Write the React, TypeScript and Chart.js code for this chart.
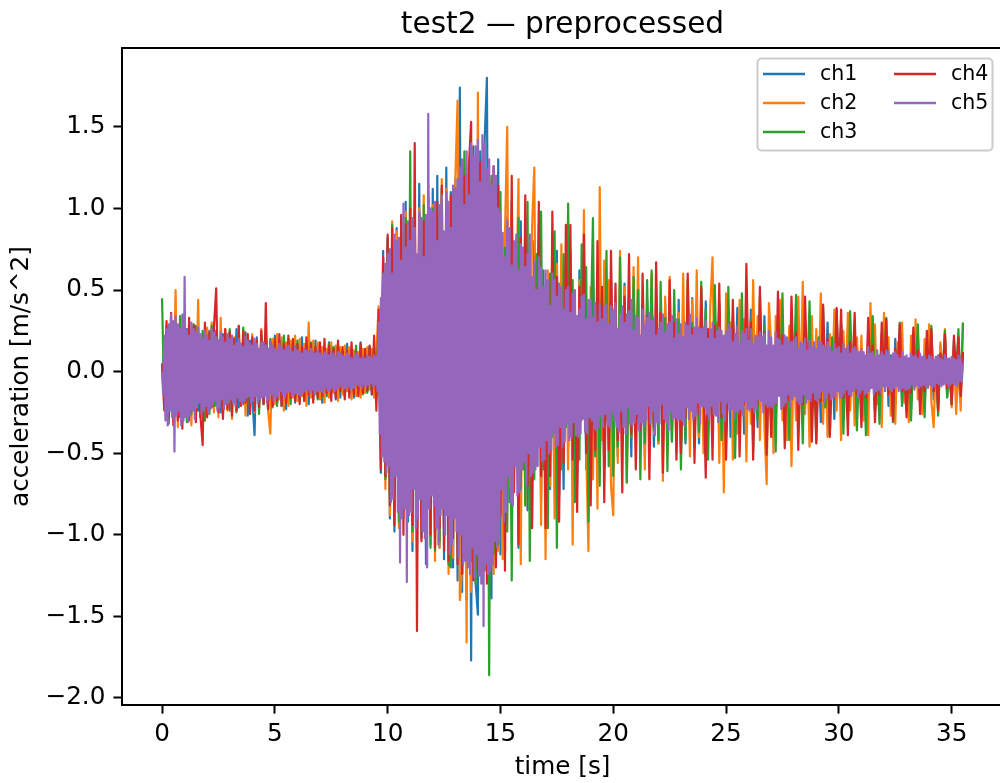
import React, { useEffect, useRef } from "react";
import { Chart, registerables } from "chart.js";

Chart.register(...registerables);

// sample spacing [s] per channel and value unit (values below are in centi-m/s^2)
const SAMPLE_DT = [0.1, 0.1, 0.1, 0.1, 0.05];
const UNIT = 0.01;

const TITLE = "test2 \u2014 preprocessed";
const X_LABEL = "time [s]";
const Y_LABEL = "acceleration [m/s^2]";
const X_TICKS = [0, 5, 10, 15, 20, 25, 30, 35];
const Y_TICKS = [-2.0, -1.5, -1.0, -0.5, 0.0, 0.5, 1.0, 1.5];
const CHANNELS = ["ch1", "ch2", "ch3", "ch4", "ch5"];
const COLORS = ["#1f77b4", "#ff7f0e", "#2ca02c", "#d62728", "#9467bd"];

const CH1 = [
  0, 12, -18, 27, -22, 30, -25, 18, -28, 24,
  -20, 26, -30, 22, -17, 28, -24, 19, -26, 21,
  -23, 25, -19, 27, -21, 18, -25, 23, -16, 22,
  -24, 20, -18, 26, -22, 17, -20, 24, -27, 19,
  -15, -39, 21, -18, 23, -20, 16, -24, 19, -17,
  22, -19, 15, -21, 18, -23, 20, -16, 17, -19,
  14, -18, 21, -15, 17, -20, 13, -17, 19, -14,
  16, -19, 13, -15, 18, -12, 15, -17, 14, -16,
  12, -15, 17, -13, 14, -16, 11, -14, 18, -12,
  13, -11, 15, -14, 10, -16, 35, -62, 74, -58,
  82, -90, 76, -98, 88, -72, 95, -85, 104, -92,
  90, -110, 98, -86, 115, -102, 94, -118, 106, -96,
  112, -98, 120, -108, 96, -115, 125, -104, 110, -120,
  118, -128, 174, -135, 126, -140, 122, -177, 138, -130,
  -149, 135, -128, 142, 180, -120, -139, 125, -118, 130,
  -112, 70, -60, 95, -80, 104, -50, 78, -108, 92,
  -60, 96, -85, 40, -92, 80, -55, 90, -78, 62,
  -80, 45, -72, 84, -38, 74, -76, 30, -72, 70,
  -46, 72, -70, 34, -68, 62, -28, 70, -60, 40,
  -62, 58, -30, 60, -56, 25, -58, 54, -22, 56,
  -54, 30, -52, 56, -20, 54, -56, 28, -52, 50,
  -28, 52, -50, 22, -52, 44, -18, 50, -46, 26,
  -44, 24, -46, 42, -20, 44, -42, 22, -40, 44,
  -46, 18, -44, 40, -22, 45, -40, 16, -44, 41,
  -20, 43, -38, 18, -42, 37, -16, 42, -36, 20,
  -38, 16, -40, 34, -14, 39, -35, 18, -38, 33,
  -15, 38, -33, 14, -34, 32, -16, 34, -31, 12,
  -33, 13, -35, 33, -12, 34, -32, 14, -33, 31,
  -12, 33, -29, 11, -32, 28, -13, 32, -27, 12,
  -29, 10, -31, 28, -11, 30, -28, 12, -29, 27,
  -10, 29, -25, 11, -28, 24, -9, 28, -23, 10,
  -25, 9, -27, 24, -10, 26, -24, 8, -25, 23,
  -9, 25, -21, 10, -24, 20, -8, 24, -19, 9,
  -21, 8, -23, 20, -9, 22, -20, 7, -21, 19,
  -8, 21, -17, 9, -20, 16, -7, 20, -15, 8,
  -17, 19, -6, 17, -12, 10,
];

const CH2 = [
  0, -8, 22, -30, 28, -25, 50, -34, 26, -29,
  31, -27, 24, -33, 29, -22, 44, -26, 23, -30,
  27, -21, 30, -25, 22, -28, 33, -20, 26, -24,
  25, -29, 21, -23, 28, -19, 24, -27, 22, -20,
  23, -25, 19, -22, 26, -18, 21, -24, -38, 20,
  -20, 23, -17, 21, -24, 18, -21, 19, -16, 22,
  -18, 20, -15, 17, -21, 30, -16, 19, -14, 18,
  -17, 15, -19, 14, -16, 18, -13, 16, -18, 15,
  -14, 16, -12, 15, -17, 13, -15, 12, -16, 14,
  -13, 15, -11, 14, -16, 12, 40, -55, 68, -72,
  78, -88, 92, -80, 86, -96, 84, -90, 98, -86,
  94, -104, 88, -112, 100, -96, 108, -90, 114, -106,
  102, -116, 98, -108, 118, -100, 112, -124, 106, -114,
  118, 166, -140, -122, 130, -166, 125, -135, 128, -120,
  171, -125, 130, -118, 122, -128, 116, -124, 120, -110,
  60, -115, 84, 150, -70, 96, -62, 45, 118, -118,
  70, -82, 40, -64, 88, 125, -50, 72, -94, 36,
  -115, 62, -70, 30, -90, 66, -40, 78, -56, 50,
  -60, 74, -106, 38, -62, 56, -30, 99, -48, -110,
  52, -66, 28, -84, 113, -42, 68, -30, 56, -70,
  -88, 40, -56, 74, -30, 52, -68, 26, -40, 64,
  -30, 70, -44, 22, -60, 42, -24, 60, -38, 28,
  -44, 30, -67, 46, -22, 58, -36, 24, -50, 36,
  -26, 60, -34, 20, -52, 44, -18, 62, -40, 22,
  -50, 24, -36, 40, 70, -20, 30, -56, 22, -74,
  48, -18, 30, -54, 20, -38, 44, -16, 32, -55,
  18, -32, 56, -14, 34, -42, 16, -34, -69, 42,
  16, -50, 34, -14, 44, -30, 14, -42, 28, -58,
  14, -30, 46, -12, 55, -26, 13, -46, 34, -12,
  26, -12, 48, -32, 11, -40, 23, -10, 38, -24,
  10, -42, 25, -9, 36, -24, 10, -33, 21, -9,
  22, -30, 9, -39, 42, -8, 29, -20, 9, -34,
  36, -8, 21, -27, 8, -32, 18, -7, 30, -19,
  8, -31, 22, -7, 32, -17, 7, -26, 20, -6,
  29, -18, -34, 6, -24, 18, -6, 26, -15, 6,
  -22, 16, -26, 5, -24, 30,
];

const CH3 = [
  45, -20, 28, -32, 24, -27, 30, -22, 34, -25,
  27, -31, 23, -26, 29, -24, 22, -28, 25, -30,
  22, -26, 28, -21, 25, -23, 20, -27, 24, -19,
  26, -22, 19, -25, 23, -20, 27, -18, 21, -24,
  20, -23, 18, -26, 22, -19, 24, -17, 20, -22,
  17, -21, 19, -16, 22, -18, 15, -20, 17, -15,
  19, -16, 14, -18, 16, -13, 18, -15, 12, -17,
  14, -16, 12, -14, 17, -11, 15, -13, 16, -12,
  13, -15, 11, -13, 14, -12, 16, -10, 13, -14,
  11, -13, 15, -12, 10, -14, 30, -50, 62, -66,
  80, -76, 90, -84, 78, -92, 86, -80, 94, -88,
  135, -98, 92, -104, 96, -88, 102, -94, 98, -108,
  100, -110, 94, -104, 112, -96, 106, -118, -120, 104,
  112, -106, 118, -124, 135, -112, 120, -116, 126, -130,
  124, -118, 130, -122, 116, -186, 120, -112, 118, -106,
  110, -60, 76, -98, 40, -128, 66, -45, 94, -72,
  50, -82, 104, -116, 34, -66, 72, -30, 98, -60,
  30, -96, 60, -40, 86, -108, 28, -60, 72, -34,
  103, -30, 56, -80, 26, -54, 78, -24, 64, -92,
  24, 94, -52, 22, -70, 46, -20, 74, -58, 18,
  -64, 18, -46, 70, -16, 44, -68, 18, -40, 58,
  -16, 50, -66, 15, -44, 56, -14, 62, -36, 16,
  -42, 55, -14, 33, -61, 13, -43, 50, -12, 32,
  -60, 12, -42, 56, -11, 30, -46, 12, -37, 55,
  -11, 38, -54, 10, -35, 53, -11, 34, -42, 10,
  -34, 52, -10, 30, -53, 9, -30, 48, -10, 29,
  -9, 32, -48, 9, -29, 47, -8, 28, -46, 9,
  -28, 8, -49, 25, -8, 48, -24, 8, -42, 33,
  -7, 47, -23, 8, -44, 22, -7, 43, -21, 7,
  -43, 21, -7, 40, -22, 6, -39, 21, -6, 38,
  -6, 22, -38, 6, -19, 37, -6, 18, -36, 5,
  -18, 5, -39, 15, -5, 34, -24, 5, -32, 13,
  -5, 33, -13, 5, -31, 14, -4, 30, -21, 5,
  -23, 4, -30, 12, -4, 29, -14, 4, -28, 12,
  -4, 28, -12, 4, -27, 11, -3, 25, -16, 4,
  -20, 12, -3, 26, -14, 30,
];

const CH4 = [
  5, -24, 31, -28, 36, -33, 27, -30, 25, -35,
  29, -26, 33, -24, 28, -31, 22, -27, -45, 30,
  -28, 24, -22, 27, 51, -25, 21, -29, 26, -23,
  24, -27, 20, -24, 28, -21, 25, -19, 23, -26,
  21, -24, 19, -22, 25, -20, 42, -23, 18, -21,
  20, -18, 23, -21, 17, -19, 22, -16, 20, -18,
  17, -20, 15, -18, 21, -14, 17, -19, 15, -16,
  18, -15, 20, -13, 16, -18, 14, -16, 19, -12,
  15, -17, 13, -16, 18, -14, 12, -15, 17, -13,
  14, -12, 16, -14, 22, -24, 38, -60, 70, -64,
  84, -82, 88, -94, 80, -86, 96, -100, 90, -84,
  100, -94, 140, -159, 96, -104, 92, -98, 106, -100,
  98, -108, 104, -96, 114, -110, 100, -116, 108, -102,
  112, -118, 106, -124, 120, -114, 126, 153, -128, 118,
  -122, 128, -116, 124, -130, 118, -112, 126, -120, 114,
  -88, 40, -122, 86, -50, 120, -74, 35, -106, 82,
  -40, 108, -70, 30, -96, 66, -28, 104, -64, 34,
  -96, 26, -64, 98, -24, 58, -92, 22, -56, 90,
  -20, 90, -54, 18, -86, 52, -18, 84, -50, 16,
  -82, 16, -48, 80, -14, 52, -80, 15, -48, 74,
  -14, 54, -42, 13, -74, 46, -12, 72, -38, 12,
  -60, 12, -36, 60, -11, 34, -66, 12, -34, 67,
  -10, 36, -62, 10, -30, 56, -9, 30, -54, 10,
  -50, 9, -28, 60, -9, 26, -56, 8, -26, 52,
  -8, -65, 26, 8, -54, 28, -8, 54, -28, 7,
  -54, 7, -22, 44, -7, 24, -52, 6, -20, 66,
  -6, 30, -54, 6, -20, 52, -6, 24, -51, 5,
  -40, 5, -20, 49, -5, 22, -47, 5, -18, 46,
  -5, 24, -48, 4, -20, 46, -4, 18, -43, 4,
  -44, 4, -18, 41, -4, 20, -40, 4, -16, 39,
  -3, 38, -16, 3, -39, 18, -3, 36, -14, 3,
  -34, 3, -16, 33, -3, 16, -31, 3, -14, 30,
  -3, 32, -14, 3, -30, 14, -2, 29, -12, 2,
  -28, 2, -13, 27, -2, 13, -26, 2, -12, 25,
  -2, 26, -12, 2, -24, 11, -2, 23, -10, 2,
  -20, 22, -2, 21, -15, 12,
];

const CH5 = [
  0, -14, 22, -30, 26, -33, 29, -24, 35, -28,
  31, -49, 34, -27, 29, -24, 26, -33, 35, -30,
  58, -28, 25, -31, 22, -27, 30, -24, 26, -29,
  24, -22, 27, -19, 23, -26, 20, -24, 25, -21,
  22, -25, 19, -23, 26, -20, 24, -18, 21, -24,
  19, -22, 24, -17, 21, -23, 18, -20, 23, -19,
  20, -17, 22, -19, 16, -21, 18, -16, 20, -18,
  17, -20, 15, -18, 21, -16, 19, -15, 17, -19,
  16, -18, 20, -15, 17, -19, 14, -17, 18, -16,
  18, -15, 16, -19, 14, -17, 19, -14, 16, -18,
  14, -16, 13, -15, 17, -12, 15, -14, 13, -16,
  15, -13, 16, -12, 14, -15, 12, -14, 16, -13,
  13, -14, 12, -15, 11, -13, 14, -12, 13, -11,
  12, -13, 14, -11, 12, -14, 11, -12, 13, -12,
  11, -12, 10, -13, 12, -10, 11, -12, 10, -11,
  12, -10, 11, -12, 9, -11, 12, -10, 11, -9,
  10, -11, 9, -10, 11, -9, 10, -11, 8, -10,
  9, -10, 11, -8, 10, -9, 8, -10, 9, -8,
  8, -9, 10, -8, 9, -7, 8, -9, 10, -8,
  9, -12, 30, -38, 45, -52, 60, -55, 66, -62,
  72, -58, 75, -80, 60, -78, 84, -64, 80, -86,
  82, -117, 68, -90, 103, -84, 76, -129, 92, -88,
  80, -86, 94, -72, 88, -96, 72, -90, 98, -78,
  94, -98, 70, -102, 96, -120, 158, -84, 100, -76,
  98, -82, 104, -96, 80, -106, 102, -88, 108, -84,
  86, -100, 110, -88, 104, -112, 88, -106, 114, -90,
  112, -98, 118, -114, 125, -100, 130, -118, 102, -116,
  135, -120, 108, -124, 140, -108, 132, -126, 138, -112,
  142, -125, 116, -130, 145, -156, 140, -118, 124, -124,
  130, -122, 114, -118, 126, -104, 120, -108, 100, -104,
  98, -72, 85, -92, 70, -86, 92, -64, 88, -80,
  65, -82, 80, -58, 84, -76, 62, -74, 78, -60,
  76, -55, 64, -70, 72, -50, 84, -64, 58, -62,
  68, -60, 50, -58, 70, -46, 64, -55, 52, -54,
  62, -42, 56, -50, 40, -48, 60, -38, 56, -46,
  46, -45, 54, -34, 52, -46, 38, -43, 50, -32,
  52, -42, 36, -40, 48, -31, 50, -39, 34, -40,
  38, -38, 46, -29, 47, -37, 32, -38, 44, -28,
  44, -30, 33, -35, 42, -36, 30, -34, 41, -27,
  32, -34, 40, -26, 41, -33, 29, -34, 40, -25,
  38, -30, 42, -34, 26, -37, 35, -24, 40, -34,
  30, -38, 35, -22, 37, -32, 44, -33, 25, -31,
  34, -26, 33, -36, 22, -31, 38, -33, 28, -30,
  33, -21, 36, -32, 31, -24, 33, -39, 22, -31,
  26, -32, 30, -20, 35, -29, 24, -31, 29, -36,
  30, -24, 34, -29, 20, -28, 32, -30, 23, -29,
  29, -30, 21, -33, 30, -22, 28, -29, 35, -24,
  22, -29, 27, -27, 33, -19, 27, -32, 26, -21,
  27, -22, 31, -26, 20, -29, 26, -21, 30, -26,
  20, -27, 25, -31, 27, -18, 25, -26, 22, -30,
  25, -19, 29, -24, 26, -23, 18, -28, 23, -24,
  28, -25, 17, -23, 25, -27, 23, -18, 26, -23,
  19, -24, 26, -22, 17, -25, 22, -23, 21, -17,
  24, -18, 21, -25, 23, -20, 16, -22, 25, -21,
  21, -22, 16, -20, 24, -19, 20, -15, 19, -23,
  16, -21, 22, -19, 21, -14, 19, -22, 18, -17,
  19, -15, 21, -18, 14, -20, 18, -19, 17, -14,
  20, -19, 13, -17, 19, -18, 15, -13, 18, -17,
  14, -18, 19, -16, 18, -12, 16, -19, 15, -16,
  18, -13, 15, -17, 12, -16, 17, -15, 14, -12,
  15, -16, 11, -15, 17, -13, 14, -11, 16, -14,
  11, -15, 14, -12, 15, -10, 13, -16, 12, -13,
  14, -11, 12, -14, 10, -13, 15, -12, 11, -10,
  12, -14, 9, -12, 13, -11, 10, -13, 12, -9,
  10, -12, 13, -9, 12, -11, 8, -12, 11, -10,
  12, -9, 10, -12, 8, -11, 12, -10, 9, -11,
  10, -11, 8, -10, 11, -8, 9, -11, 10, -8,
  8, -10, 11, -9, 9, -8, 10, -9, 7, -10,
  10, -8, 9, -10, 7, -9, 9, -7, 10, -8,
  8, -9, 7, -8, 10, -7, 8, -9, 7, -8,
  9, -7, 8, -8, 7, -9, 10, -6, 8, -6,
  5,
];

const SERIES = [CH1, CH2, CH3, CH4, CH5];

const FONT = '"DejaVu Sans", sans-serif';
const CANVAS_W = 1010;
const CANVAS_H = 783;

const decorPlugin = {
  id: "decor",
  afterDraw(chart: any) {
    const { ctx, chartArea } = chart;
    const { left, right, top, bottom } = chartArea;
    ctx.save();
    // spines
    ctx.strokeStyle = "#000";
    ctx.lineWidth = 2;
    ctx.strokeRect(left, top, right - left, bottom - top);

    // title
    ctx.fillStyle = "#000";
    ctx.font = `29.6px ${FONT}`;
    ctx.textAlign = "center";
    ctx.textBaseline = "alphabetic";
    const cx = (left + right) / 2;
    ctx.fillText(TITLE, cx, 33);

    // x label
    ctx.font = `24.7px ${FONT}`;
    ctx.textBaseline = "middle";
    ctx.fillText(X_LABEL, cx, 768);

    // y label
    ctx.save();
    ctx.translate(22, (top + bottom) / 2);
    ctx.rotate(-Math.PI / 2);
    ctx.fillText(Y_LABEL, 0, 0);
    ctx.restore();

    // legend
    const bx = 757.5, by = 58.5, bw = 235, bh = 92;
    ctx.beginPath();
    ctx.roundRect(bx, by, bw, bh, 4);
    ctx.fillStyle = "rgba(255,255,255,0.8)";
    ctx.fill();
    ctx.strokeStyle = "#cccccc";
    ctx.lineWidth = 2;
    ctx.stroke();
    const cols = [
      { hx0: 763, hx1: 805, tx: 820 },
      { hx0: 894, hx1: 936, tx: 951 },
    ];
    const rows = [74, 103, 132];
    ctx.font = `20.6px ${FONT}`;
    ctx.textAlign = "left";
    ctx.textBaseline = "middle";
    CHANNELS.forEach((name, i) => {
      const c = cols[Math.floor(i / 3)];
      const y = rows[i % 3];
      ctx.strokeStyle = COLORS[i];
      ctx.lineWidth = 2.5;
      ctx.beginPath();
      ctx.moveTo(c.hx0, y);
      ctx.lineTo(c.hx1, y);
      ctx.stroke();
      ctx.fillStyle = "#000";
      ctx.fillText(name, c.tx, y + 1);
    });
    ctx.restore();
  },
};

export default function App() {
  const canvasRef = useRef<HTMLCanvasElement | null>(null);

  useEffect(() => {
    const canvas = canvasRef.current;
    if (!canvas) return;
    const datasets = SERIES.map((arr, k) => ({
      label: CHANNELS[k],
      data: arr.map((v, i) => ({ x: i * SAMPLE_DT[k], y: v * UNIT })),
      borderColor: COLORS[k],
      backgroundColor: COLORS[k],
      borderWidth: 2.2,
      borderJoinStyle: "round",
      pointRadius: 0,
      tension: 0,
      fill: false,
      order: SERIES.length - k,
    }));

    const tickFont = { family: FONT, size: 24.7 };
    const chart = new Chart(canvas, {
      type: "line",
      data: { datasets },
      plugins: [decorPlugin],
      options: {
        animation: false,
        responsive: false,
        devicePixelRatio: 1,
        parsing: false,
        normalized: true,
        layout: { padding: { left: 0, top: 48, right: 7, bottom: 0 } },
        plugins: {
          legend: { display: false },
          title: { display: false },
          tooltip: { enabled: false },
        },
        scales: {
          x: {
            type: "linear",
            min: -1.775,
            max: 37.275,
            afterBuildTicks: (scale: any) => {
              scale.ticks = X_TICKS.map((v) => ({ value: v }));
            },
            afterFit: (scale: any) => {
              scale.height = 78;
            },
            ticks: {
              font: tickFont,
              color: "#000",
              padding: 6,
              maxRotation: 0,
              autoSkip: false,
              callback: (v: any) => String(v),
            },
            grid: {
              drawOnChartArea: false,
              drawTicks: true,
              tickLength: 8.6,
              tickWidth: 2,
              tickColor: "#000",
            },
            border: { display: false },
          },
          y: {
            type: "linear",
            min: -2.043,
            max: 1.983,
            afterBuildTicks: (scale: any) => {
              scale.ticks = Y_TICKS.map((v) => ({ value: v }));
            },
            afterFit: (scale: any) => {
              scale.width = 122;
            },
            ticks: {
              font: tickFont,
              color: "#000",
              padding: 8,
              autoSkip: false,
              callback: (v: any) =>
                (v < 0 ? "\u2212" : "") + Math.abs(Number(v)).toFixed(1),
            },
            grid: {
              drawOnChartArea: false,
              drawTicks: true,
              tickLength: 8.6,
              tickWidth: 2,
              tickColor: "#000",
            },
            border: { display: false },
          },
        },
      },
    } as any);
    return () => chart.destroy();
  }, []);

  return (
    <div
      style={{
        position: "fixed",
        left: 0,
        top: 0,
        width: 1000,
        height: 783,
        overflow: "hidden",
        background: "#fff",
      }}
    >
      <canvas
        ref={canvasRef}
        width={CANVAS_W}
        height={CANVAS_H}
        style={{ display: "block", width: CANVAS_W, height: CANVAS_H }}
      />
    </div>
  );
}
